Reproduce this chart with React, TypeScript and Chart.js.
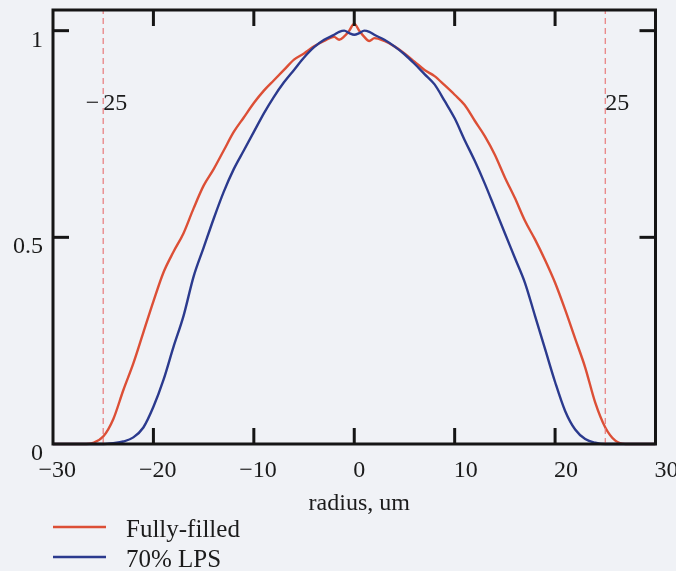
import React, { useEffect, useRef } from "react";
import { Chart, registerables } from "chart.js";

Chart.register(...registerables);

// ---- data ----
const radius = [
  -30, -29, -28, -27, -26, -25, -24, -23, -22, -21, -20, -19, -18, -17, -16, -15,
  -14, -13, -12, -11, -10, -9, -8, -7, -6, -5, -4, -3, -2, -1.5, -1, -0.5, 0,
  0.5, 1, 1.5, 2, 3, 4, 5, 6, 7, 8, 9, 10, 11, 12, 13, 14, 15, 16, 17, 18, 19,
  20, 21, 22, 23, 24, 25, 26, 27, 28, 29, 30,
];

const fullyFilled = [
  0, 0, 0, 0, 0.003, 0.018, 0.06, 0.13, 0.195, 0.27, 0.345, 0.415, 0.465, 0.51,
  0.57, 0.625, 0.665, 0.71, 0.755, 0.79, 0.825, 0.855, 0.88, 0.905, 0.93, 0.945,
  0.962, 0.975, 0.985, 0.978, 0.986, 1.0, 1.017, 1.0, 0.985, 0.975, 0.982,
  0.975, 0.962, 0.945, 0.925, 0.905, 0.89, 0.868, 0.845, 0.82, 0.782, 0.745,
  0.7, 0.645, 0.595, 0.54, 0.495, 0.445, 0.39, 0.325, 0.255, 0.185, 0.1, 0.04,
  0.008, 0, 0, 0, 0,
];

const lps70 = [
  0, 0, 0, 0, 0, 0, 0.002, 0.006, 0.016, 0.04, 0.09, 0.155, 0.235, 0.31, 0.405,
  0.475, 0.545, 0.61, 0.665, 0.71, 0.755, 0.8, 0.84, 0.875, 0.905, 0.935, 0.96,
  0.978, 0.99, 0.997, 1.0, 0.994, 0.99, 0.994, 1.0, 0.997, 0.99, 0.978, 0.962,
  0.943, 0.92, 0.895, 0.87, 0.83, 0.788, 0.735, 0.685, 0.63, 0.57, 0.51, 0.45,
  0.39, 0.31, 0.23, 0.15, 0.08, 0.035, 0.012, 0.003, 0, 0, 0, 0, 0, 0,
];

const cutoffs = [-25, 25];
const xTickValues = [-30, -20, -10, 0, 10, 20, 30];
const yTickValues = [0, 0.5, 1];
const seriesNames = ["Fully-filled", "70% LPS"];
const seriesColors = ["#dc4f36", "#2b3a8e"];
const xTitle = "radius, um";

const X_MIN = -30;
const X_MAX = 30;
const Y_MIN = 0;
const Y_MAX = 1.05;

const FONT = "'Liberation Serif', 'Times New Roman', serif";

const framePlugin = {
  id: "framePlugin",
  afterDatasetsDraw(chart: any) {
    const { ctx, chartArea: a, scales } = chart;
    const xs = scales.x;
    const ys = scales.y;
    ctx.save();
    ctx.strokeStyle = "#151515";
    ctx.lineCap = "butt";

    const seg = (x1: number, y1: number, x2: number, y2: number) => {
      ctx.beginPath();
      ctx.moveTo(x1, y1);
      ctx.lineTo(x2, y2);
      ctx.stroke();
    };

    // frame
    ctx.lineWidth = 3;
    ctx.strokeRect(a.left, a.top, a.right - a.left, a.bottom - a.top);

    // inward ticks
    const tl = 16;
    for (const v of xTickValues) {
      if (v === X_MIN || v === X_MAX) continue;
      const px = xs.getPixelForValue(v);
      seg(px, a.bottom, px, a.bottom - tl);
      seg(px, a.top, px, a.top + tl);
    }
    for (const v of yTickValues) {
      if (v === Y_MIN) continue;
      const py = ys.getPixelForValue(v);
      seg(a.left, py, a.left + tl, py);
      seg(a.right, py, a.right - tl, py);
    }

    // tick labels
    ctx.fillStyle = "#1b1b1b";
    ctx.font = `24px ${FONT}`;
    ctx.textBaseline = "alphabetic";
    ctx.textAlign = "right";
    for (const v of yTickValues) {
      ctx.fillText(String(v), a.left - 10, ys.getPixelForValue(v) + 16);
    }
    for (const v of xTickValues) {
      const px = xs.getPixelForValue(v);
      const by = a.bottom + 33;
      ctx.textAlign = "left";
      ctx.fillText(String(Math.abs(v)), px - 1, by);
      if (v < 0) {
        ctx.textAlign = "right";
        ctx.fillText("\u2212", px - 1, by);
      }
    }

    // cutoff labels
    for (const c of cutoffs) {
      const px = xs.getPixelForValue(c);
      const by = a.top + 100;
      ctx.textAlign = "left";
      ctx.fillText(String(Math.abs(c)), px, by);
      if (c < 0) {
        ctx.textAlign = "right";
        ctx.fillText("\u2212", px - 4, by);
      }
    }

    // axis title
    ctx.textAlign = "center";
    ctx.fillText(xTitle, (a.left + a.right) / 2 + 5, a.bottom + 66);

    // legend
    ctx.font = `25px ${FONT}`;
    ctx.textAlign = "left";
    seriesNames.forEach((name, i) => {
      const ly = a.bottom + 83 + i * 30;
      ctx.strokeStyle = seriesColors[i];
      ctx.lineWidth = 2.5;
      seg(a.left, ly, a.left + 53, ly);
      ctx.fillText(name, a.left + 73, ly + 10);
    });

    ctx.restore();
  },
};

export default function App() {
  const canvasRef = useRef<HTMLCanvasElement | null>(null);

  useEffect(() => {
    if (!canvasRef.current) return;
    const toPts = (ys: number[]) => radius.map((x, i) => ({ x, y: ys[i] }));
    const cutoffSets = cutoffs.map((c) => ({
      label: "cutoff " + c,
      data: [
        { x: c, y: Y_MIN },
        { x: c, y: Y_MAX },
      ],
      borderColor: "rgba(232,120,120,0.9)",
      borderWidth: 1.3,
      borderDash: [6, 4],
      pointRadius: 0,
      fill: false,
      clip: false as any,
    }));
    const chart = new Chart(canvasRef.current, {
      type: "line",
      data: {
        datasets: [
          ...cutoffSets,
          {
            label: seriesNames[1],
            data: toPts(lps70),
            borderColor: seriesColors[1],
            borderWidth: 2.4,
            pointRadius: 0,
            tension: 0,
            cubicInterpolationMode: "monotone",
            fill: false,
            clip: false as any,
          },
          {
            label: seriesNames[0],
            data: toPts(fullyFilled),
            borderColor: seriesColors[0],
            borderWidth: 2.4,
            pointRadius: 0,
            tension: 0,
            cubicInterpolationMode: "monotone",
            fill: false,
            clip: false as any,
          },
        ],
      },
      options: {
        animation: false,
        responsive: false,
        devicePixelRatio: 1,
        layout: {
          padding: { left: 53, right: 20.5, top: 10, bottom: 127 },
        },
        scales: {
          x: { type: "linear", min: X_MIN, max: X_MAX, display: false },
          y: { type: "linear", min: Y_MIN, max: Y_MAX, display: false },
        },
        plugins: {
          legend: { display: false },
          tooltip: { enabled: false },
        },
      },
      plugins: [framePlugin],
    });
    return () => chart.destroy();
  }, []);

  return (
    <div
      style={{
        position: "absolute",
        left: 0,
        top: 0,
        width: 676,
        height: 571,
        background: "#f0f2f6",
        overflow: "hidden",
      }}
    >
      <canvas ref={canvasRef} width={676} height={571} style={{ display: "block" }} />
    </div>
  );
}
